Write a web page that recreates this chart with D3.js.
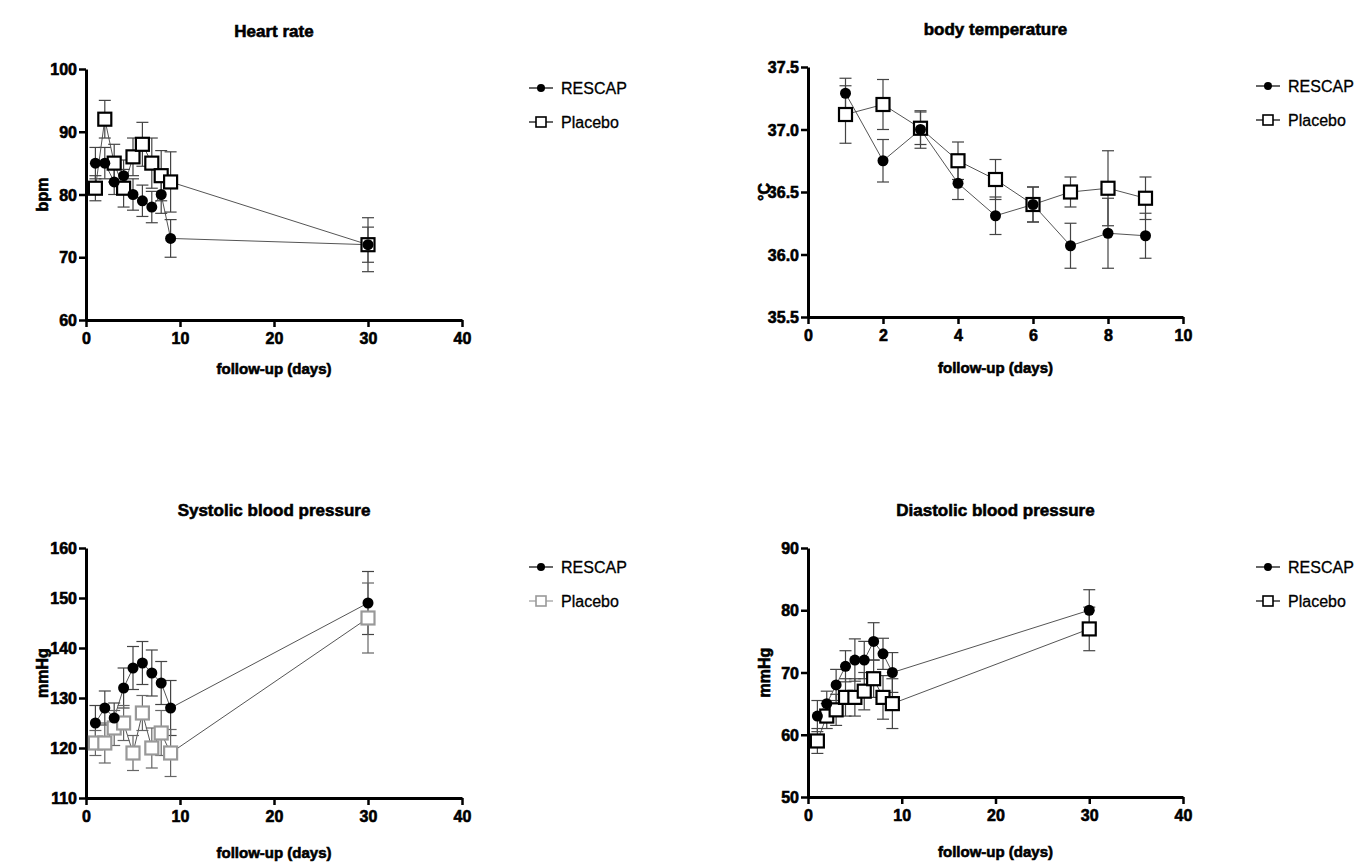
<!DOCTYPE html>
<html>
<head>
<meta charset="utf-8">
<script src="https://cdn.jsdelivr.net/npm/d3@7"></script>
<style>
  body { margin: 0; background: #fff; }
  svg text { font-family: "Liberation Sans", Arial, sans-serif; font-weight: bold; fill: #000; }
  svg text.heavy { stroke: #000; stroke-width: 0.6px; }
</style>
</head>
<body>
<svg id="chart" width="1366" height="867"></svg>
<script>
// days of follow-up
const daysLong = [1, 2, 3, 4, 5, 6, 7, 8, 9, 30];
const daysShort = [1, 2, 3, 4, 5, 6, 7, 8, 9];

// heart rate (bpm), mean and error
const hrRescap = [85, 85, 82, 83, 80, 79, 78, 80, 73, 72];
const hrRescapErr = [2.5, 2.5, 2, 2.5, 2.5, 2.5, 2.5, 3, 3, 2.8];
const hrPlacebo = [81, 92, 85, 81, 86, 88, 85, 83, 82, 72];
const hrPlaceboErr = [2, 3, 3, 3, 3, 3.5, 4, 4, 4.8, 4.3];

// body temperature (°C)
const tempRescap = [37.29, 36.75, 37.0, 36.57, 36.31, 36.4, 36.07, 36.17, 36.15];
const tempRescapErr = [0.12, 0.17, 0.15, 0.13, 0.15, 0.14, 0.18, 0.28, 0.18];
const tempPlacebo = [37.12, 37.2, 37.01, 36.75, 36.6, 36.4, 36.5, 36.53, 36.45];
const tempPlaceboErr = [0.23, 0.2, 0.13, 0.15, 0.16, 0.14, 0.12, 0.3, 0.17];

// systolic blood pressure (mmHg)
const sysRescap = [125, 128, 126, 132, 136, 137, 135, 133, 128, 149];
const sysRescapErr = [3.5, 3.4, 3, 4, 4.3, 4.3, 4.6, 4.3, 5.5, 6.3];
const sysPlacebo = [121, 121, 124, 125, 119, 127, 120, 123, 119, 146];
const sysPlaceboErr = [2.5, 4, 3.5, 3.5, 3.5, 3.5, 4, 4.5, 4.7, 7];

// diastolic blood pressure (mmHg)
const diaRescap = [63, 65, 68, 71, 72, 72, 75, 73, 70, 80];
const diaRescapErr = [2.5, 2, 2.5, 2.5, 3.4, 3, 3, 2.5, 3.2, 3.3];
const diaPlacebo = [59, 63, 64, 66, 66, 67, 69, 66, 65, 77];
const diaPlaceboErr = [2, 2, 2.5, 3, 3, 3, 3, 3.5, 4, 3.5];

const seriesNames = ["RESCAP", "Placebo"];

const svg = d3.select("#chart");

function drawPanel(cfg) {
  const x = d3.scaleLinear().domain(cfg.xDomain).range([cfg.left, cfg.right]);
  const y = d3.scaleLinear().domain(cfg.yDomain).range([cfg.bottom, cfg.top]);
  const g = svg.append("g");

  // title
  g.append("text")
    .attr("class", "heavy")
    .attr("x", (cfg.left + cfg.right) / 2)
    .attr("y", cfg.top - 32)
    .attr("text-anchor", "middle")
    .style("font-size", "17px")
    .text(cfg.title);

  // axes
  const yAxis = g.append("g")
    .attr("transform", `translate(${cfg.left},0)`)
    .call(d3.axisLeft(y).tickValues(cfg.yTicks).tickFormat(cfg.yFormat).tickSize(7).tickSizeOuter(0));
  const xAxis = g.append("g")
    .attr("transform", `translate(0,${cfg.bottom})`)
    .call(d3.axisBottom(x).tickValues(cfg.xTicks).tickSize(7).tickSizeOuter(0));
  [yAxis, xAxis].forEach(a => {
    a.attr("font-family", null).attr("font-size", null);
    a.select(".domain").attr("stroke", "#000").attr("stroke-width", 3);
    a.selectAll(".tick line").attr("stroke", "#000").attr("stroke-width", 2.5);
    a.selectAll("text").attr("class", "heavy").style("font-size", "16px");
  });
  yAxis.selectAll("text").attr("x", -9).attr("dy", "0.35em");
  xAxis.selectAll("text").attr("y", 13);

  // axis labels
  g.append("text")
    .attr("class", "heavy")
    .attr("x", (cfg.left + cfg.right) / 2)
    .attr("y", cfg.bottom + cfg.xLabelGap)
    .attr("text-anchor", "middle")
    .style("font-size", "15px")
    .text("follow-up (days)");
  g.append("text")
    .attr("class", "heavy")
    .attr("transform", `translate(${cfg.left - 38},${(cfg.top + cfg.bottom) / 2}) rotate(-90)`)
    .attr("text-anchor", "middle")
    .style("font-size", "16px")
    .text(cfg.yLabel);

  const line = d3.line().x(d => x(d[0])).y(d => y(d[1]));

  cfg.series.forEach(s => {
    const pts = cfg.days.map((d, i) => [d, s.values[i], s.err[i]]);
    // connecting line
    g.append("path")
      .datum(pts)
      .attr("d", line)
      .attr("fill", "none")
      .attr("stroke", "#555")
      .attr("stroke-width", 1);
    // error bars
    const eb = g.selectAll(null).data(pts).join("g").attr("class", "errbar");
    eb.append("line")
      .attr("x1", d => x(d[0])).attr("x2", d => x(d[0]))
      .attr("y1", d => y(d[1] - d[2])).attr("y2", d => y(d[1] + d[2]))
      .attr("stroke", s.errColor).attr("stroke-width", 1.2);
    [-1, 1].forEach(sign => {
      eb.append("line")
        .attr("x1", d => x(d[0]) - 6).attr("x2", d => x(d[0]) + 6)
        .attr("y1", d => y(d[1] + sign * d[2])).attr("y2", d => y(d[1] + sign * d[2]))
        .attr("stroke", s.errColor).attr("stroke-width", 1.2);
    });
  });

  // markers: squares first, filled circles on top
  cfg.series.slice().reverse().forEach(s => {
    const pts = cfg.days.map((d, i) => [d, s.values[i]]);
    if (s.shape === "circle") {
      g.selectAll(null).data(pts).join("circle")
        .attr("cx", d => x(d[0])).attr("cy", d => y(d[1]))
        .attr("r", 5.5).attr("fill", "#000");
    } else {
      g.selectAll(null).data(pts).join("rect")
        .attr("x", d => x(d[0]) - 6.5).attr("y", d => y(d[1]) - 6.5)
        .attr("width", 13).attr("height", 13)
        .attr("fill", "#fff")
        .attr("stroke", s.color).attr("stroke-width", 2.2);
    }
  });

  // legend
  cfg.series.forEach((s, i) => {
    const ly = cfg.top + 19 + i * 34;
    const lx = cfg.legendX;
    g.append("line")
      .attr("x1", lx - 12).attr("x2", lx + 12).attr("y1", ly).attr("y2", ly)
      .attr("stroke", s.shape === "circle" ? "#000" : s.color).attr("stroke-width", 1.2);
    if (s.shape === "circle") {
      g.append("circle").attr("cx", lx).attr("cy", ly).attr("r", 4).attr("fill", "#000");
    } else {
      g.append("rect").attr("x", lx - 5).attr("y", ly - 5).attr("width", 10).attr("height", 10)
        .attr("fill", "#fff").attr("stroke", s.color).attr("stroke-width", 1.6);
    }
    g.append("text")
      .attr("x", lx + 20).attr("y", ly)
      .attr("dy", "0.35em")
      .style("font-size", "16px")
      .style("font-weight", "normal")
      .style("stroke", "#000").style("stroke-width", "0.3px")
      .text(seriesNames[i]);
  });
}

drawPanel({
  title: "Heart rate", yLabel: "bpm",
  left: 86, right: 462, top: 69, bottom: 320, xLabelGap: 54,
  xDomain: [0, 40], xTicks: [0, 10, 20, 30, 40],
  yDomain: [60, 100], yTicks: [60, 70, 80, 90, 100], yFormat: d3.format("d"),
  days: daysLong, legendX: 541,
  series: [
    { values: hrRescap, err: hrRescapErr, shape: "circle", color: "#000", errColor: "#444" },
    { values: hrPlacebo, err: hrPlaceboErr, shape: "square", color: "#000", errColor: "#444" }
  ]
});

drawPanel({
  title: "body temperature", yLabel: "°C",
  left: 808, right: 1183, top: 67, bottom: 317, xLabelGap: 56,
  xDomain: [0, 10], xTicks: [0, 2, 4, 6, 8, 10],
  yDomain: [35.5, 37.5], yTicks: [35.5, 36.0, 36.5, 37.0, 37.5], yFormat: d3.format(".1f"),
  days: daysShort, legendX: 1268,
  series: [
    { values: tempRescap, err: tempRescapErr, shape: "circle", color: "#000", errColor: "#444" },
    { values: tempPlacebo, err: tempPlaceboErr, shape: "square", color: "#000", errColor: "#444" }
  ]
});

drawPanel({
  title: "Systolic blood pressure", yLabel: "mmHg",
  left: 86, right: 462, top: 548, bottom: 798, xLabelGap: 60,
  xDomain: [0, 40], xTicks: [0, 10, 20, 30, 40],
  yDomain: [110, 160], yTicks: [110, 120, 130, 140, 150, 160], yFormat: d3.format("d"),
  days: daysLong, legendX: 541,
  series: [
    { values: sysRescap, err: sysRescapErr, shape: "circle", color: "#000", errColor: "#444" },
    { values: sysPlacebo, err: sysPlaceboErr, shape: "square", color: "#999", errColor: "#666" }
  ]
});

drawPanel({
  title: "Diastolic blood pressure", yLabel: "mmHg",
  left: 808, right: 1183, top: 548, bottom: 797, xLabelGap: 60,
  xDomain: [0, 40], xTicks: [0, 10, 20, 30, 40],
  yDomain: [50, 90], yTicks: [50, 60, 70, 80, 90], yFormat: d3.format("d"),
  days: daysLong, legendX: 1268,
  series: [
    { values: diaRescap, err: diaRescapErr, shape: "circle", color: "#000", errColor: "#444" },
    { values: diaPlacebo, err: diaPlaceboErr, shape: "square", color: "#000", errColor: "#444" }
  ]
});
</script>
</body>
</html>
